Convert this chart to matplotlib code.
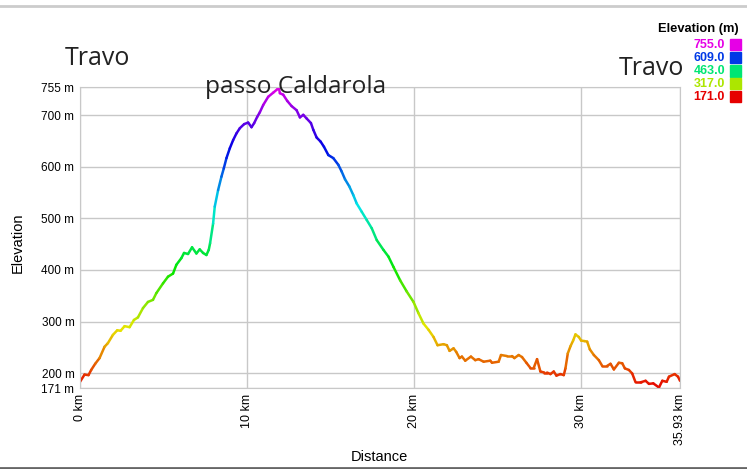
import numpy as np
import matplotlib.pyplot as plt
from matplotlib.collections import LineCollection
from matplotlib.colors import hsv_to_rgb

# profilo altimetrico (km, m)
distanza = [0.0, 0.27, 0.51, 0.67, 0.91, 1.17, 1.47, 1.67, 1.97, 2.23, 2.43, 2.67, 2.97,
            3.23, 3.47, 3.77, 4.07, 4.37, 4.57, 4.97, 5.27, 5.57, 5.77, 6.07, 6.23, 6.47,
            6.71, 6.97, 7.17, 7.37, 7.57, 7.71, 7.79, 7.97, 8.07, 8.27, 8.47, 8.61, 8.77,
            8.97, 9.17, 9.37, 9.57, 9.83, 10.07, 10.27, 10.43, 10.61, 10.77, 10.97, 11.27,
            11.57, 11.83, 11.9, 11.97, 12.17, 12.41, 12.67, 12.97, 13.17, 13.37, 13.57,
            13.83, 13.97, 14.17, 14.41, 14.61, 14.87, 15.17, 15.47, 15.67, 15.87, 16.13,
            16.37, 16.57, 16.87, 17.17, 17.47, 17.77, 18.17, 18.47, 18.77, 19.17, 19.57,
            19.97, 20.27, 20.57, 20.87, 21.17, 21.41, 21.77, 21.97, 22.13, 22.37, 22.53,
            22.73, 22.87, 23.07, 23.41, 23.67, 23.87, 24.17, 24.57, 24.67, 25.07, 25.21,
            25.57, 25.87, 26.01, 26.27, 26.47, 26.73, 26.97, 27.17, 27.37, 27.57, 27.81,
            27.97, 28.17, 28.37, 28.53, 28.77, 28.97, 29.07, 29.21, 29.37, 29.53, 29.67,
            29.87, 30.01, 30.21, 30.37, 30.53, 30.77, 31.07, 31.27, 31.57, 31.77, 31.97,
            32.27, 32.47, 32.63, 32.87, 33.07, 33.27, 33.57, 33.87, 34.07, 34.33, 34.67,
            34.87, 35.13, 35.27, 35.61, 35.81, 35.93]
quota = [183, 197, 196, 206, 218, 229, 251, 258, 274, 283, 282, 291, 289,
         303, 308, 326, 338, 342, 355, 374, 387, 393, 410, 423, 433, 431,
         444, 432, 440, 433, 429, 439, 452, 490, 523, 555, 581, 597, 617,
         636, 652, 665, 675, 683, 686, 677, 685, 697, 706, 720, 736,
         744, 751, 755, 743, 740, 728, 718, 710, 696, 701, 694,
         685, 672, 657, 649, 639, 623, 617, 604, 591, 576, 562,
         545, 529, 513, 497, 481, 458, 439, 426, 406, 380, 358,
         338, 316, 296, 284, 270, 254, 256, 254, 243, 248, 241,
         229, 232, 224, 232, 225, 227, 222, 224, 220, 222, 235,
         233, 233, 229, 235, 231, 220, 210, 210, 227, 203, 201,
         201, 198, 203, 195, 198, 196, 209, 238, 252, 263, 275,
         270, 263, 262, 261, 246, 235, 225, 214, 214, 218, 207,
         220, 219, 209, 206, 199, 182, 182, 185, 179, 180, 172,
         185, 183, 193, 198, 193, 185]

y_tick = [171, 200, 300, 400, 500, 600, 700, 755]
x_tick = [0, 10, 20, 30, 35.93]
x_lab = ['0 km', '10 km', '20 km', '30 km', '35.93 km']
legenda_val = [755.0, 609.0, 463.0, 317.0, 171.0]

q_min, q_max = 171, 755
W, H = 747, 469


def colore(q):
    h = (np.asarray(q, dtype=float) - q_min) / (q_max - q_min) * 300 / 360
    hsv = np.stack([h, np.ones_like(h), np.full_like(h, 0.9)], axis=-1)
    return hsv_to_rgb(hsv)


fig = plt.figure(figsize=(W / 100, H / 100), dpi=100)
ax = fig.add_axes([80 / W, 81 / H, 600 / W, 301 / H])

x = np.array(distanza)
y = np.array(quota)
seg = np.stack([np.column_stack([x[:-1], y[:-1]]), np.column_stack([x[1:], y[1:]])], axis=1)
lc = LineCollection(seg, colors=colore((y[:-1] + y[1:]) / 2), linewidths=1.8, capstyle='round')
ax.add_collection(lc)

ax.set_xlim(0, 35.93)
ax.set_ylim(q_min, q_max)
ax.set_yticks(y_tick)
ax.set_yticklabels([f'{v} m' for v in y_tick], fontsize=8.5, family='Liberation Sans')
ax.set_xticks(x_tick)
ax.set_xticklabels(x_lab, rotation=90, fontsize=9, family='Liberation Sans')
ax.tick_params(length=0, pad=4)
ax.grid(color='#c8c8c8', linewidth=1)
for s in ax.spines.values():
    s.set_color('#c8c8c8')
ax.set_axisbelow(True)

fig.text(379 / W, 1 - 457 / H, 'Distance', fontsize=10.5, family='Liberation Sans',
         ha='center', va='center')
fig.text(18 / W, 1 - 243 / H, 'Elevation', fontsize=10.5, family='Liberation Sans',
         rotation=90, ha='center', va='center')

# etichette località
fig.text(97 / W, 1 - 65 / H, 'Travo', fontsize=18, family='Open Sans', color='#222222',
         ha='center', va='baseline')
fig.text(296 / W, 1 - 93 / H, 'passo Caldarola', fontsize=17.6, family='Open Sans',
         color='#222222', ha='center', va='baseline')
fig.text(651 / W, 1 - 75 / H, 'Travo', fontsize=18, family='Open Sans', color='#222222',
         ha='center', va='baseline')

# legenda quote
fig.text(739 / W, 1 - 29 / H, 'Elevation (m)', fontsize=9.3, fontweight='bold',
         family='Liberation Sans', ha='right', va='center')
for i, v in enumerate(legenda_val):
    yy = 1 - (45 + 13 * i) / H
    c = colore(v)
    fig.text(725 / W, yy, f'{v:.1f}', fontsize=9, fontweight='bold',
             family='Liberation Sans', color=c, ha='right', va='center')
    fig.patches.append(plt.Rectangle((730 / W, yy - 5.5 / H), 11 / W, 11 / H,
                                     transform=fig.transFigure, color=c, figure=fig))

# bordi decorativi
fig.add_artist(plt.Line2D([0, 1], [1 - 6.5 / H, 1 - 6.5 / H], color='#cccccc', lw=2))
fig.add_artist(plt.Line2D([0, 1], [1.5 / H, 1.5 / H], color='#666666', lw=2))

fig.savefig('out.png', dpi=100)
